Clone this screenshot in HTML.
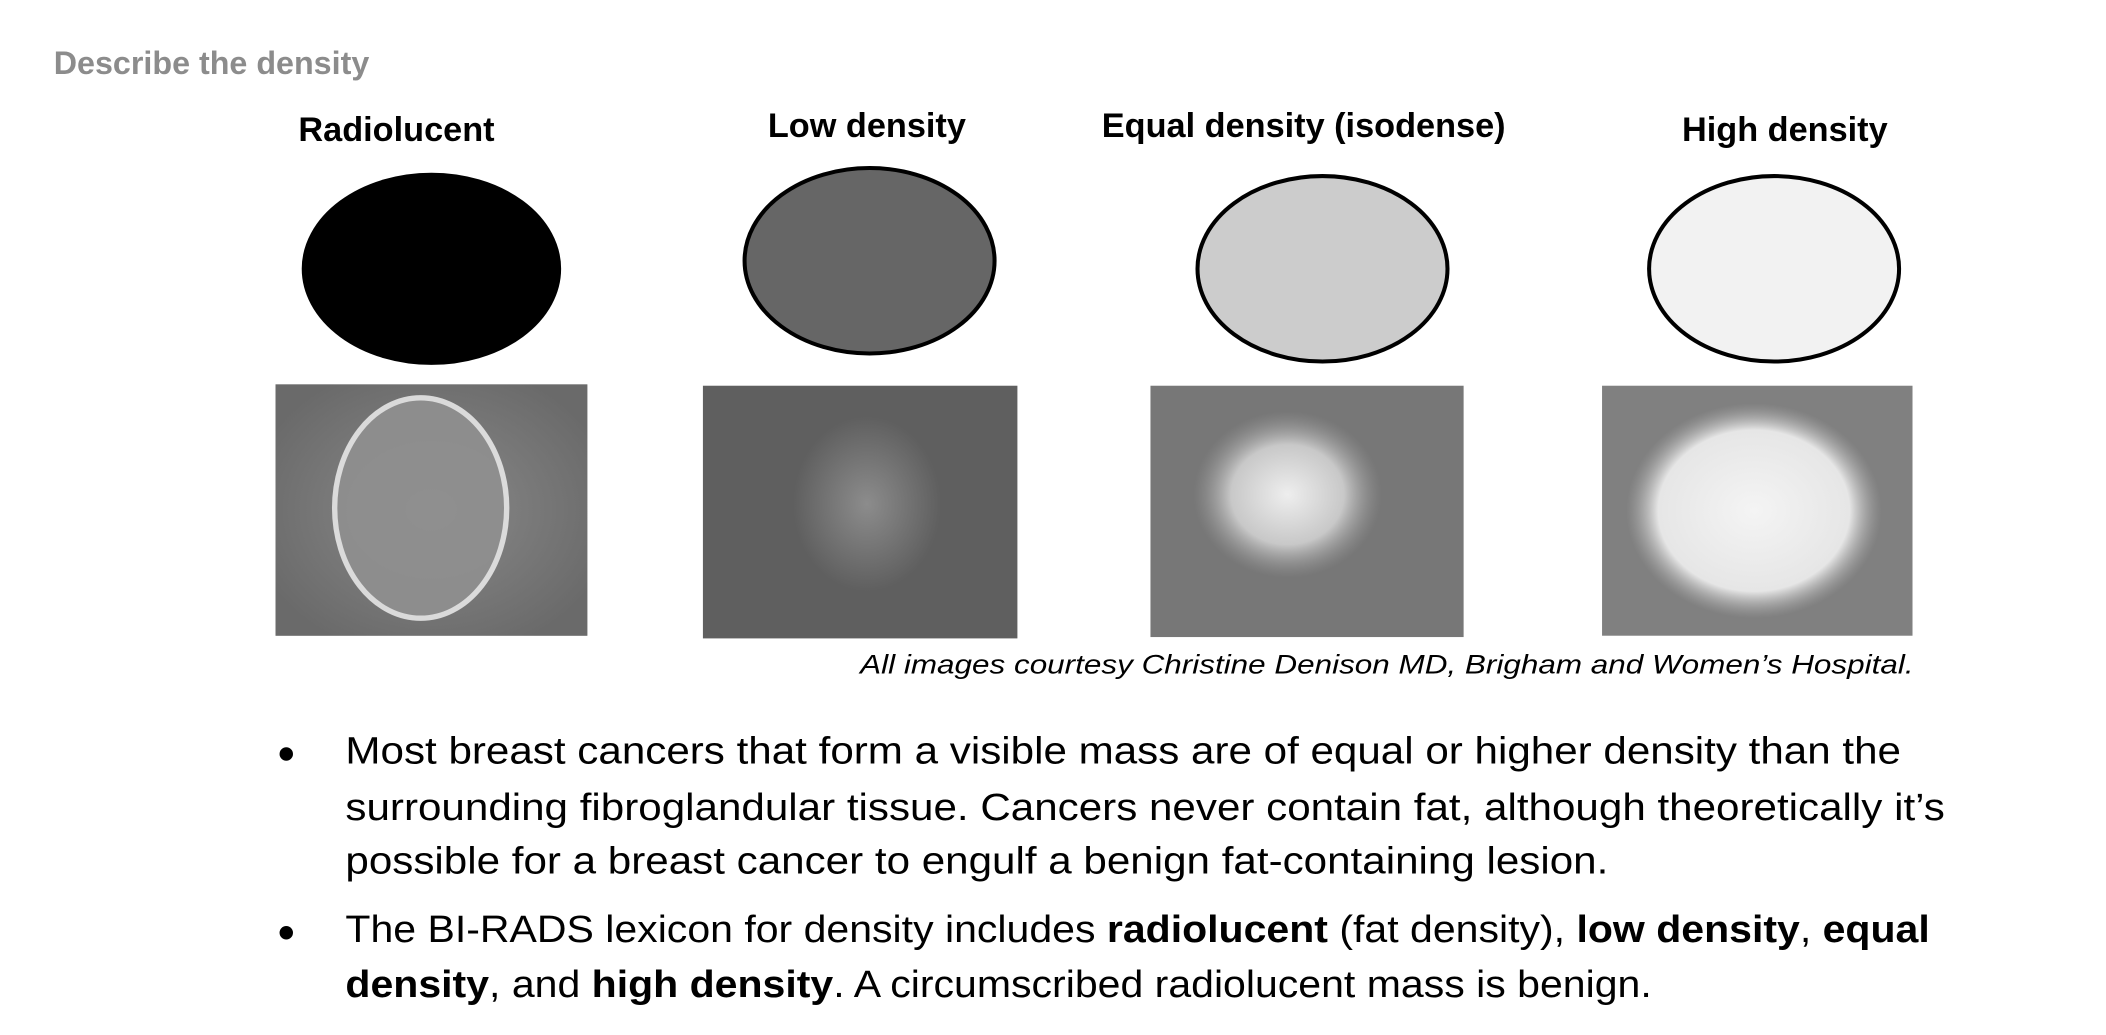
<!DOCTYPE html>
<html><head><meta charset="utf-8"><style>
html,body{margin:0;padding:0;background:#fff;width:2106px;height:1034px;overflow:hidden}
#c{position:absolute;left:0;top:0;width:1567px;height:770px;transform:scale(1.344);transform-origin:0 0;font-family:"Liberation Sans",sans-serif;color:#000}
.t{position:absolute;white-space:nowrap}
.lab{font-weight:bold;font-size:25.5px;transform:translateX(-50%)}
.bl{font-size:28px;left:257px;transform:scaleX(1.12);transform-origin:0 0}
.dot{position:absolute;left:208px;width:10px;height:10px;border-radius:50%;background:#000}
</style></head><body>
<div id="c">
<div class="t" style="left:40px;top:34px;font-size:24px;font-weight:bold;color:#8c8c8c">Describe the density</div>
<div class="t lab" style="left:295px;top:83px">Radiolucent</div>
<div class="t lab" style="left:645px;top:80px">Low density</div>
<div class="t lab" style="left:970px;top:80px">Equal density (isodense)</div>
<div class="t lab" style="left:1328px;top:83px">High density</div>
<svg width="1567" height="770" style="position:absolute;left:0;top:0">
<defs>
<radialGradient id="g1" cx="50%" cy="50%" r="60%"><stop offset="0" stop-color="#8a8a8a"/><stop offset="1" stop-color="#6a6a6a"/></radialGradient>
<radialGradient id="b2" cx="50%" cy="50%" r="50%"><stop offset="0" stop-color="#8c8c8c"/><stop offset="1" stop-color="#8c8c8c" stop-opacity="0"/></radialGradient>
<radialGradient id="b3" cx="50%" cy="50%" r="50%"><stop offset="0" stop-color="#eee"/><stop offset="0.6" stop-color="#c8c8c8"/><stop offset="1" stop-color="#999" stop-opacity="0"/></radialGradient>
<radialGradient id="b4" cx="50%" cy="50%" r="50%"><stop offset="0" stop-color="#f4f4f4"/><stop offset="0.75" stop-color="#e6e6e6"/><stop offset="1" stop-color="#aaa" stop-opacity="0"/></radialGradient>
</defs>
<ellipse cx="321" cy="200" rx="95" ry="70" fill="#000" stroke="#000" stroke-width="3"/>
<ellipse cx="647" cy="194" rx="93" ry="69" fill="#666" stroke="#000" stroke-width="3"/>
<ellipse cx="984" cy="200" rx="93" ry="69" fill="#ccc" stroke="#000" stroke-width="3"/>
<ellipse cx="1320" cy="200" rx="93" ry="69" fill="#f2f2f2" stroke="#000" stroke-width="3"/>
<g>
<rect x="205" y="286" width="232" height="187" fill="#8a8a8a"/>
<rect x="205" y="286" width="232" height="187" fill="url(#g1)"/>
<ellipse cx="313" cy="378" rx="64" ry="82" fill="#909090" stroke="#e6e6e6" stroke-width="4" opacity="0.9"/>
</g>
<g>
<rect x="523" y="287" width="234" height="188" fill="#5f5f5f"/>
<ellipse cx="645" cy="375" rx="55" ry="65" fill="url(#b2)"/>
</g>
<g>
<rect x="856" y="287" width="233" height="187" fill="#777"/>
<ellipse cx="958" cy="368" rx="70" ry="62" fill="url(#b3)"/>
</g>
<g>
<rect x="1192" y="287" width="231" height="186" fill="#808080"/>
<ellipse cx="1305" cy="380" rx="95" ry="80" fill="url(#b4)"/>
</g>
</svg>
<div class="t" style="left:640px;top:484px;font-size:20px;font-style:italic;transform:scaleX(1.17);transform-origin:0 0">All images courtesy Christine Denison MD, Brigham and Women’s Hospital.</div>
<div class="dot" style="top:556px"></div>
<div class="t bl" style="top:543px">Most breast cancers that form a visible mass are of equal or higher density than the</div>
<div class="t bl" style="top:585px">surrounding fibroglandular tissue. Cancers never contain fat, although theoretically it’s</div>
<div class="t bl" style="top:625px">possible for a breast cancer to engulf a benign fat-containing lesion.</div>
<div class="dot" style="top:689px"></div>
<div class="t bl" style="top:676px;transform:scaleX(1.09)">The BI-RADS lexicon for density includes <b>radiolucent</b> (fat density), <b>low density</b>, <b>equal</b></div>
<div class="t bl" style="top:717px;transform:scaleX(1.09)"><b>density</b>, and <b>high density</b>. A circumscribed radiolucent mass is benign.</div>
</div>
</body></html>
